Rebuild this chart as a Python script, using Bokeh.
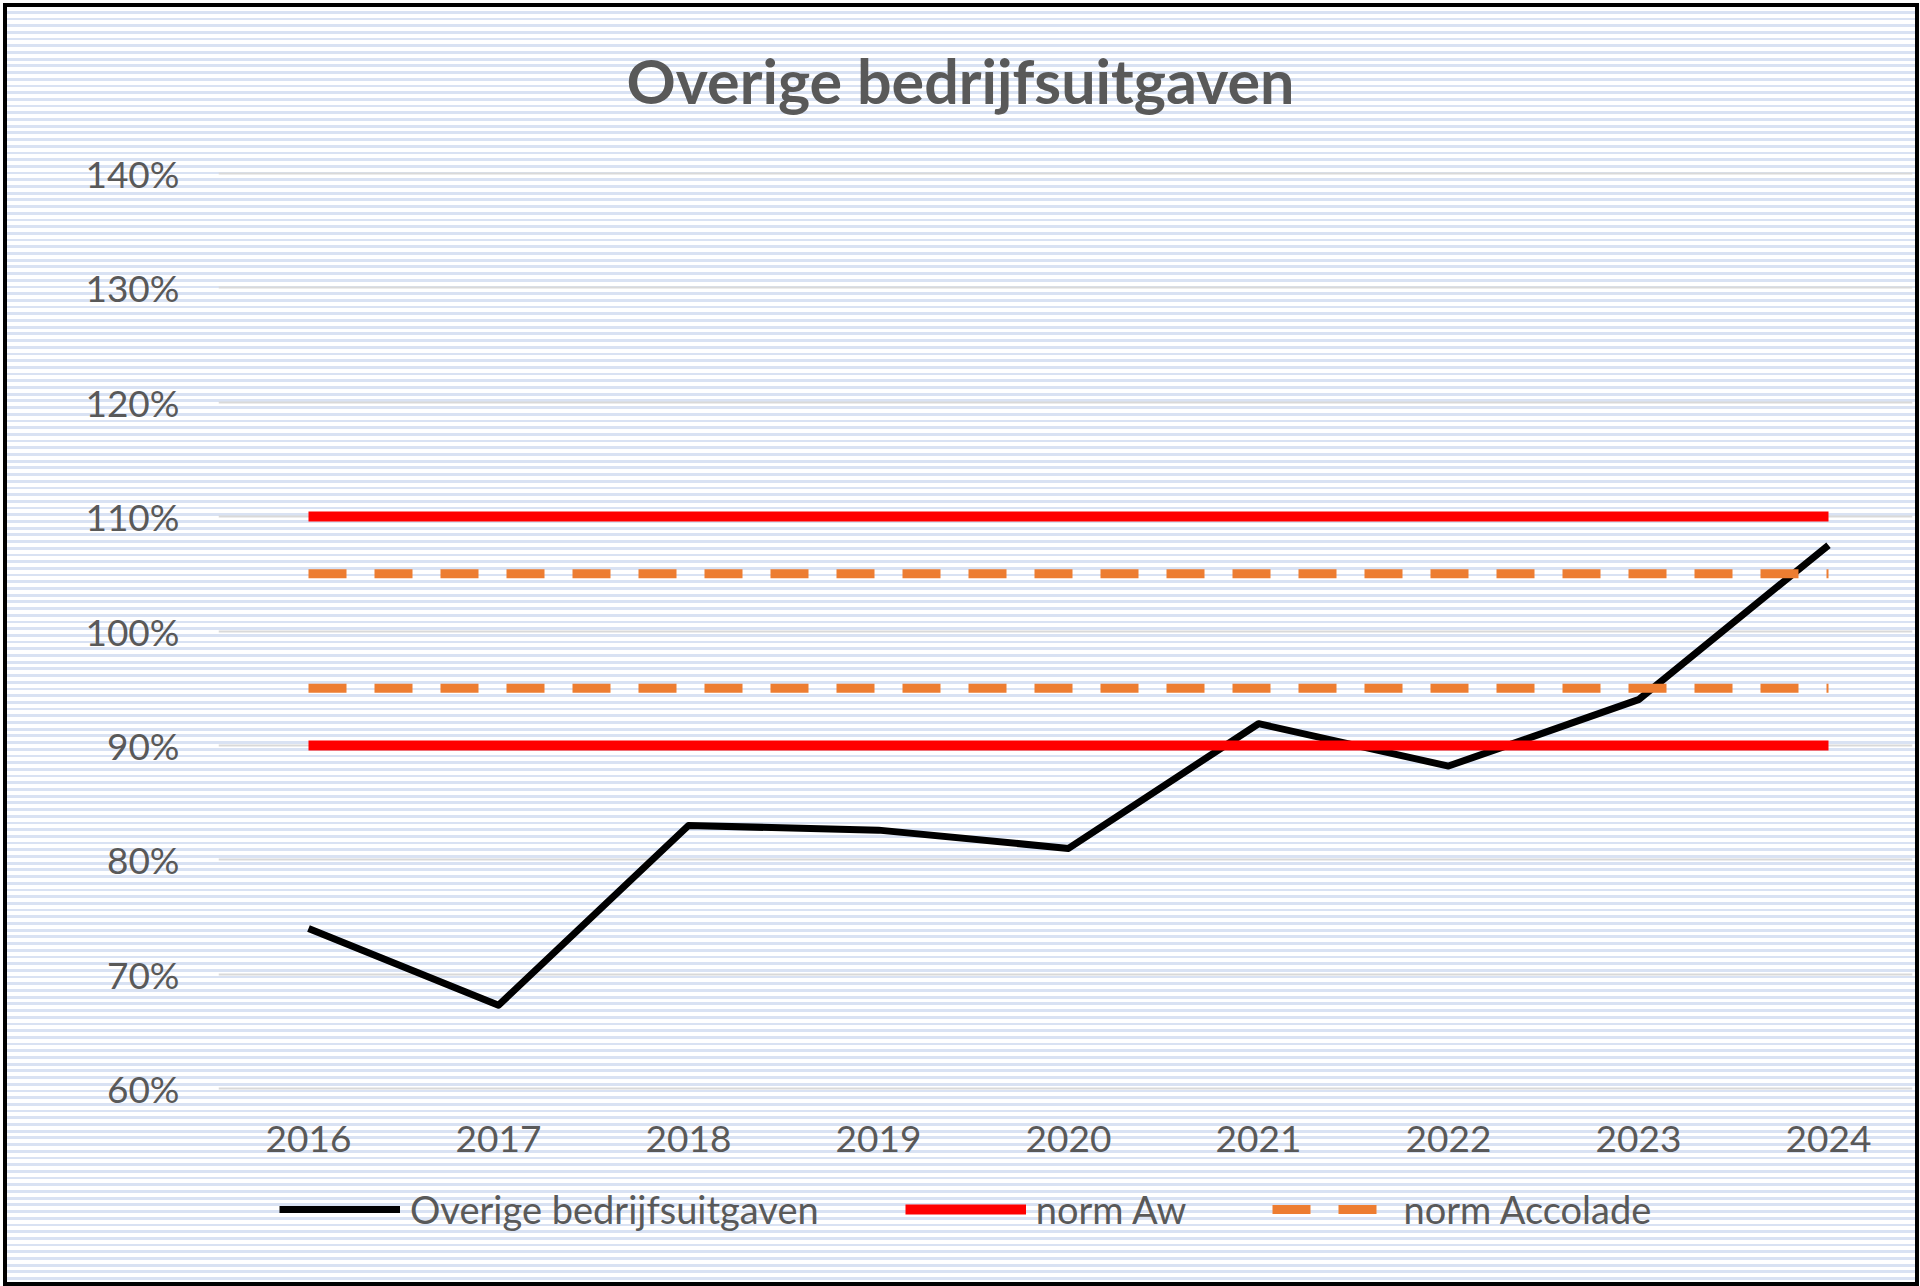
from bokeh.plotting import figure
from bokeh.models import (Range1d, FixedTicker, NumeralTickFormatter, Legend, LegendItem, Label)
from bokeh.layouts import column
from bokeh.embed import file_html
from bokeh.resources import INLINE

# ---- data ----
years = [2016, 2017, 2018, 2019, 2020, 2021, 2022, 2023, 2024]
overige = [0.740, 0.673, 0.830, 0.826, 0.810, 0.919, 0.882, 0.940, 1.075]
norm_aw_boven = [1.10, 1.10, 1.10, 1.10, 1.10, 1.10, 1.10, 1.10, 1.10]
norm_aw_onder = [0.90, 0.90, 0.90, 0.90, 0.90, 0.90, 0.90, 0.90, 0.90]
norm_acc_boven = [1.05, 1.05, 1.05, 1.05, 1.05, 1.05, 1.05, 1.05, 1.05]
norm_acc_onder = [0.95, 0.95, 0.95, 0.95, 0.95, 0.95, 0.95, 0.95, 0.95]
y_ticks = [0.6, 0.7, 0.8, 0.9, 1.0, 1.1, 1.2, 1.3, 1.4]
title_text = "Overige bedrijfsuitgaven"
series_names = ["Overige bedrijfsuitgaven", "norm Aw", "norm Accolade"]

FONT = "Lato"
GREY = "#595959"
BLACK_STYLE = dict(line_color="black", line_width=7, line_join="round")
RED_STYLE = dict(line_color="#ff0000", line_width=10)
ORANGE_STYLE = dict(line_color="#ed7d31", line_width=9, line_dash="38 28")
W = 1908


def strip(height):
    f = figure(width=W, height=height, output_backend="svg", toolbar_location=None,
               title=None, x_axis_type=None, y_axis_type=None,
               x_range=Range1d(0, 1), y_range=Range1d(0, 1),
               min_border_left=0, min_border_right=0, min_border_top=0, min_border_bottom=0)
    f.background_fill_color = None
    f.border_fill_color = None
    f.outline_line_color = None
    f.xgrid.visible = False
    f.ygrid.visible = False
    return f


# ---- title strip ----
tf = strip(120)
tf.add_layout(Label(x=742, y=47, x_units="screen", y_units="screen", text=title_text,
                    text_align="center", text_baseline="alphabetic",
                    text_font=FONT, text_font_style="bold", text_font_size="61px",
                    text_color=GREY))

# ---- main chart ----
p = figure(width=W, height=1055, output_backend="svg", toolbar_location=None,
           title=None,
           x_range=Range1d(2015.5263, 2024.4421), y_range=Range1d(0.595, 1.405),
           min_border_left=211, min_border_right=3, min_border_top=40, min_border_bottom=88)
p.frame_width = 1694
p.frame_height = 927
p.background_fill_color = None
p.border_fill_color = None
p.outline_line_color = None

p.xaxis.ticker = FixedTicker(ticks=years)
p.yaxis.ticker = FixedTicker(ticks=y_ticks)
p.yaxis.formatter = NumeralTickFormatter(format="0%")
for ax in (p.xaxis, p.yaxis):
    ax.axis_line_color = None
    ax.major_tick_line_color = None
    ax.minor_tick_line_color = None
    ax.major_tick_in = 0
    ax.major_tick_out = 0
    ax.major_label_text_font = FONT
    ax.major_label_text_font_size = "37px"
    ax.major_label_text_color = GREY
p.yaxis.major_label_standoff = 39
p.xaxis.major_label_standoff = 31

p.xgrid.grid_line_color = None
p.ygrid.ticker = FixedTicker(ticks=y_ticks)
p.ygrid.grid_line_color = "#d9d9d9"
p.ygrid.grid_line_width = 2

p.line(years, overige, **BLACK_STYLE)
p.line(years, norm_aw_boven, **RED_STYLE)
p.line(years, norm_aw_onder, **RED_STYLE)
p.line(years, norm_acc_boven, **ORANGE_STYLE)
p.line(years, norm_acc_onder, **ORANGE_STYLE)

# ---- legend strip (its lines fall outside its own ranges; only the legend shows) ----
lg = strip(100)
l_main = lg.line(years, overige, **BLACK_STYLE)
l_aw = lg.line(years, norm_aw_boven, **RED_STYLE)
l_ac = lg.line(years, norm_acc_boven, **ORANGE_STYLE)

legend = Legend(items=[
    LegendItem(label=series_names[0], renderers=[l_main]),
    LegendItem(label=series_names[1], renderers=[l_aw]),
    LegendItem(label=series_names[2], renderers=[l_ac]),
], orientation="horizontal", location=(61, 50))
legend.background_fill_alpha = 0
legend.border_line_color = None
legend.padding = 0
legend.margin = 0
legend.glyph_width = 121
legend.glyph_height = 40
legend.label_height = 40
legend.label_standoff = 10
legend.spacing = 86
legend.label_text_font = FONT
legend.label_text_font_size = "38px"
legend.label_text_color = GREY
lg.add_layout(legend, "center")

lay = column(tf, p, lg, spacing=0)
lay.styles = {
    "margin-left": "3px",
    "margin-top": "3px",
    "border": "4px solid #000000",
    "background": "repeating-linear-gradient(to bottom, #ffffff 0px, #ffffff 3.9px, #d9e2f3 3.9px, #d9e2f3 6.7px)",
}

open("out.html", "w").write(file_html(lay, INLINE))
